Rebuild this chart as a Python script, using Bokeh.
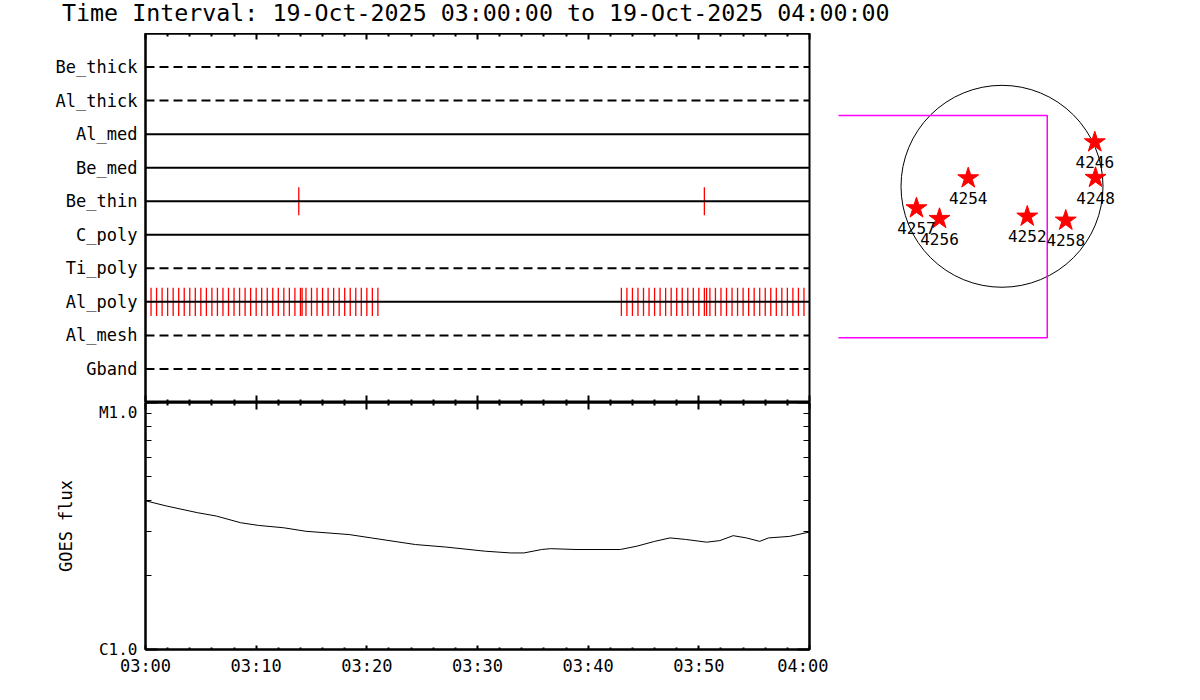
from bokeh.plotting import figure
from bokeh.models import (Range1d, FixedTicker, LinearAxis, LogAxis, ColumnDataSource,
                          CustomJSTickFormatter, Span, Div)
from bokeh.layouts import row, column
from bokeh.embed import file_html
from bokeh.resources import INLINE
from bokeh.core.properties import value

FONT = "DejaVu Sans Mono"

# ---------------- data ----------------
title_text = "Time Interval: 19-Oct-2025 03:00:00 to 19-Oct-2025 04:00:00"
start_hour = 3                      # 03:00
t_start, t_end = 0, 60              # minutes after 03:00
time_major = [0, 10, 20, 30, 40, 50, 60]
time_minor = [2, 4, 6, 8, 12, 14, 16, 18, 22, 24, 26, 28, 32, 34, 36, 38,
              42, 44, 46, 48, 52, 54, 56, 58]

detectors = ["Be_thick", "Al_thick", "Al_med", "Be_med", "Be_thin",
             "C_poly", "Ti_poly", "Al_poly", "Al_mesh", "Gband"]
detector_dashed = [True, True, False, False, False, False, True, False, True, True]

be_thin_events = [13.85, 50.5]
al_poly_events = [0.0, 0.5, 1.0, 1.5, 2.0, 2.5, 3.0, 3.5, 4.0, 4.5, 5.0, 5.5, 6.0,
                  6.5, 7.0, 7.5, 8.0, 8.5, 9.0, 9.5, 10.0, 10.5, 11.0, 11.5, 12.0,
                  12.5, 13.0, 13.5, 14.0, 14.15, 14.5, 15.0, 15.5, 16.0, 16.5, 17.0,
                  17.5, 18.0, 18.5, 19.0, 19.5, 20.0, 20.5, 21.0,
                  43.0, 43.5, 44.0, 44.5, 45.0, 45.5, 46.0, 46.5, 47.0, 47.5, 48.0,
                  48.5, 49.0, 49.5, 50.0, 50.5, 50.7, 51.0, 51.5, 52.0, 52.5, 53.0,
                  53.5, 54.0, 54.5, 55.0, 55.5, 56.0, 56.5, 57.0, 57.5, 58.0, 58.5,
                  59.0, 59.5]

goes_t = [0, 1.9, 4.7, 6.4, 8.6, 10.2, 12.5, 14.5, 18.4, 20.4, 24.4, 27.1, 30.7,
          33.0, 34.2, 35.8, 36.6, 38.9, 42.9, 44.4, 46.0, 47.4, 48.8, 50.7, 51.9,
          53.1, 54.3, 55.5, 56.3, 58.2, 60]
goes_flux = [4.0e-6, 3.81e-6, 3.58e-6, 3.47e-6, 3.26e-6, 3.18e-6, 3.11e-6, 3.01e-6,
             2.92e-6, 2.83e-6, 2.66e-6, 2.60e-6, 2.50e-6, 2.46e-6, 2.46e-6, 2.54e-6,
             2.56e-6, 2.54e-6, 2.54e-6, 2.62e-6, 2.74e-6, 2.83e-6, 2.79e-6, 2.72e-6,
             2.76e-6, 2.89e-6, 2.83e-6, 2.74e-6, 2.83e-6, 2.87e-6, 2.99e-6]
goes_major = [1e-6, 1e-5]
goes_minor = [2e-6, 3e-6, 4e-6, 5e-6, 6e-6, 7e-6, 8e-6, 9e-6]
goes_labels = ["C1.0", "M1.0"]

ar_numbers = ["4246", "4248", "4252", "4254", "4256", "4257", "4258"]
ar_x = [882, 889, 240, -321, -594, -813, 606]      # arcsec
ar_y = [419, 81, -287, 77, -309, -208, -325]
sun_radius = 960
fov_x = [-1800, 430]
fov_y = [-1440, 673]

# ---------------- helpers ----------------
blank = CustomJSTickFormatter(code="return ''")
time_fmt = CustomJSTickFormatter(args=dict(h0=start_hour), code="""
const total = h0*60 + Math.round(tick);
const h = Math.floor(total/60), m = total % 60;
return String(h).padStart(2,'0') + ':' + String(m).padStart(2,'0');
""")


def time_axis(labels, tick_in, minor_in):
    return LinearAxis(
        ticker=FixedTicker(ticks=time_major, minor_ticks=time_minor),
        formatter=time_fmt if labels else blank,
        major_tick_in=tick_in, major_tick_out=0,
        minor_tick_in=minor_in, minor_tick_out=0,
        major_tick_line_width=2, minor_tick_line_width=2,
        axis_line_width=2,
        major_label_standoff=6 if labels else 0,
        major_label_text_font=FONT,
        major_label_text_font_size="17px" if labels else "1px",
        major_label_text_color="black",
    )


# ---------------- title ----------------
title_div = Div(text=title_text, width=1160, height=33,
                styles={"font-family": FONT, "font-size": "23.3px", "color": "black",
                        "white-space": "nowrap", "padding-left": "62px",
                        "line-height": "26px", "margin": "0"})

# ---------------- top panel ----------------
top = figure(width=828, height=369, x_range=Range1d(t_start, t_end),
             y_range=Range1d(len(detectors) + 1, 0),
             output_backend="svg", toolbar_location=None,
             x_axis_location=None, y_axis_location=None,
             min_border_left=145, min_border_right=19,
             min_border_top=0, min_border_bottom=0)
top.xgrid.visible = False
top.ygrid.visible = False
top.outline_line_color = "black"
top.outline_line_width = 2

top.add_layout(time_axis(False, 6, 3), "above")
top.add_layout(time_axis(False, 7, 3), "below")

row_axis = LinearAxis(
    ticker=FixedTicker(ticks=list(range(1, len(detectors) + 1)), minor_ticks=[]),
    formatter=CustomJSTickFormatter(args=dict(names=detectors),
                                    code="return names[Math.round(tick)-1] || ''"),
    major_tick_in=0, major_tick_out=0, minor_tick_in=0, minor_tick_out=0,
    axis_line_width=2, major_label_standoff=8,
    major_label_text_font=FONT, major_label_text_font_size="17px",
    major_label_text_color="black")
top.add_layout(row_axis, "left")

ev_t, ev_row = [], []
for t in be_thin_events:
    ev_t.append(t)
    ev_row.append(detectors.index("Be_thin") + 1)
for t in al_poly_events:
    ev_t.append(t)
    ev_row.append(detectors.index("Al_poly") + 1)
half = 0.42
ev_src = ColumnDataSource(dict(t=ev_t, y0=[r - half for r in ev_row],
                               y1=[r + half for r in ev_row]))
top.segment(x0="t", x1="t", y0="y0", y1="y1", source=ev_src,
            line_color="red", line_width=1.3)

for i, (name, dashed) in enumerate(zip(detectors, detector_dashed)):
    top.add_layout(Span(location=i + 1, dimension="width", line_color="black",
                        line_width=2, line_dash="9 5" if dashed else "solid"))

# ---------------- GOES panel ----------------
bot = figure(width=828, height=282, x_range=Range1d(t_start, t_end),
             y_range=Range1d(goes_major[0], goes_major[-1]), y_axis_type="log",
             output_backend="svg", toolbar_location=None,
             x_axis_location=None, y_axis_location=None,
             min_border_left=145, min_border_right=19,
             min_border_top=0, min_border_bottom=35)
bot.xgrid.visible = False
bot.ygrid.visible = False
bot.outline_line_color = "black"
bot.outline_line_width = 2

bot.add_layout(time_axis(False, 7, 3), "above")
bot.add_layout(time_axis(True, 4, 2), "below")

goes_fmt = CustomJSTickFormatter(args=dict(vals=goes_major, labs=goes_labels), code="""
let best = 0, d = 1e9;
for (let i = 0; i < vals.length; i++) {
  const dd = Math.abs(Math.log10(tick) - Math.log10(vals[i]));
  if (dd < d) { d = dd; best = i; }
}
return labs[best];
""")
left_ax = LogAxis(ticker=FixedTicker(ticks=goes_major, minor_ticks=goes_minor),
                  formatter=goes_fmt, axis_label="GOES flux",
                  major_tick_in=12, major_tick_out=0, minor_tick_in=6, minor_tick_out=0,
                  major_tick_line_width=2, minor_tick_line_width=1, axis_line_width=2,
                  major_label_standoff=8, major_label_text_font=FONT,
                  major_label_text_font_size="16px", major_label_text_color="black",
                  axis_label_text_font=FONT, axis_label_text_font_size="17px",
                  axis_label_text_font_style="normal", axis_label_text_color="black",
                  axis_label_standoff=20)
bot.add_layout(left_ax, "left")
right_ax = LogAxis(ticker=FixedTicker(ticks=goes_major, minor_ticks=goes_minor),
                   formatter=blank, major_tick_in=12, major_tick_out=0,
                   minor_tick_in=6, minor_tick_out=0, major_tick_line_width=2,
                   minor_tick_line_width=1, axis_line_width=2,
                   major_label_standoff=0, major_label_text_font_size="1px")
bot.add_layout(right_ax, "right")

bot.line(goes_t, goes_flux, line_color="black", line_width=1)

# ---------------- solar disk panel ----------------
scale = sun_radius / 101.0          # arcsec per pixel
frame_w, frame_h = 330, 400
cx_px, cy_px = 163.5, 152.8          # disk centre inside frame (px from left/top)
x0 = -cx_px * scale
y1 = cy_px * scale
disk = figure(width=frame_w + 10, height=frame_h,
              x_range=Range1d(x0, x0 + frame_w * scale),
              y_range=Range1d(y1 - frame_h * scale, y1),
              output_backend="svg", toolbar_location=None,
              x_axis_location=None, y_axis_location=None,
              min_border_left=10, min_border_right=0,
              min_border_top=0, min_border_bottom=0)
disk.xgrid.visible = False
disk.ygrid.visible = False
disk.outline_line_color = None

disk.circle(x=[0], y=[0], radius=sun_radius, fill_color=None,
            line_color="black", line_width=1)
disk.quad(left=[fov_x[0]], right=[fov_x[1]], bottom=[fov_y[0]], top=[fov_y[1]],
          fill_color=None, line_color="#ff00ff", line_width=1.5)
disk.scatter(ar_x, ar_y, marker="star", size=22, fill_color="red",
             line_color="red")
disk.text(ar_x, ar_y, text=ar_numbers, text_align="center", text_baseline="middle",
          y_offset=20, text_font=value(FONT), text_font_size="16px",
          text_color="black")

layout = column(title_div, row(column(top, bot), disk))
open("out.html", "w").write(file_html(layout, INLINE))
